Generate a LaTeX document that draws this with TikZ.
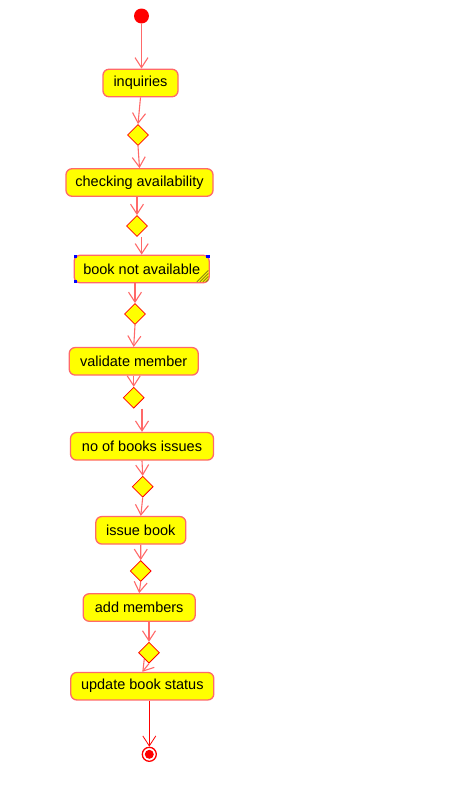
\documentclass[tikz,border=0pt]{standalone}
\usepackage{fontspec}
\setmainfont{Liberation Sans}
\usetikzlibrary{shapes.geometric,arrows.meta}
\definecolor{lred}{RGB}{255,105,105}
\definecolor{fyel}{RGB}{255,255,0}
\definecolor{hatch}{RGB}{140,130,20}
\begin{document}
\begin{tikzpicture}[x=1pt,y=-1pt,
 act/.style={draw=lred, line width=1.3pt, fill=fyel, rounded corners=6pt, inner sep=0pt, minimum height=27.5pt, font=\fontsize{14.5}{16}\selectfont},
 dec/.style={diamond, draw=red, line width=0.8pt, fill=fyel, inner sep=0pt, minimum width=21pt, minimum height=21pt},
 flow/.style={draw=lred, line width=1.1pt, -{Straight Barb[length=10pt,width=13pt]}},
 handle/.style={fill=blue},
]
\useasboundingbox[fill=white] (0,0) rectangle (462,790);
\node[circle, fill=red, minimum size=15pt, inner sep=0pt] (start) at (141.5,16) {};
\node[act, minimum width=75pt] (inq) at (140.5,83) {inquiries};
\node[dec] (d1) at (138,135) {};
\node[act, minimum width=147pt] (chk) at (139.5,182.5) {checking availability};
\node[dec] (d2) at (137,226) {};
\node[act, minimum width=135pt] (bna) at (141.7,269) {book not available};
\node[dec] (d3) at (135,314) {};
\node[act, minimum width=129pt] (val) at (133.7,361.3) {validate member};
\node[dec] (d4) at (133.7,397.7) {};
\node[act, minimum width=143pt] (nob) at (142,446.3) {no of books issues};
\node[dec] (d5) at (142.7,486.7) {};
\node[act, minimum width=90pt] (iss) at (140.8,530.3) {issue book};
\node[dec] (d6) at (140.7,571) {};
\node[act, minimum width=112pt] (add) at (139.2,607.5) {add members};
\node[dec] (d7) at (149,652.7) {};
\node[act, minimum width=143pt] (upd) at (142.3,686.2) {update book status};
\node[circle, draw=red, line width=1.3pt, fill=white, minimum size=14pt, inner sep=0pt] (end) at (149.3,754.3) {};
\fill[red] (end.center) circle (4.5);

% selection handles on "book not available"
\fill[handle] (bna.north west) rectangle ++(3.5,3.5);
\fill[handle] ([xshift=-3.5pt]bna.north east) rectangle ++(3.5,3.5);
\fill[handle] ([yshift=3.5pt]bna.south west) rectangle ++(3.5,3.5);
\foreach \k in {4,7,10,13}
  \draw[hatch, line width=0.8pt] ([xshift=-\k pt, yshift=1.5pt]bna.south east) -- ([xshift=-1.5pt, yshift=\k pt]bna.south east);

% connectors
\draw[flow] (start.south) -- (start.south |- inq.north);
\draw[flow] (inq.south) -- (d1.north);
\draw[flow] (d1.south) -- (chk.north);
\draw[flow] (chk.south -| d2.north) -- (d2.north);
\draw[flow] (d2.south -| bna.north) -- (bna.north);
\draw[flow] (bna.south -| d3.north) -- (d3.north);
\draw[flow] (d3.south) -- (val.north);
\draw[flow] (val.south) -- (d4.north);
\draw[flow] (d4.south -| nob.north) -- (nob.north);
\draw[flow] (nob.south) -- (d5.north);
\draw[flow] (d5.south) -- (iss.north);
\draw[flow] (iss.south) -- (d6.north);
\draw[flow] (d6.south) -- (add.north);
\draw[flow] (add.south -| d7.north) -- (d7.north);
\draw[flow] (d7.south) -- (upd.north);
\draw[flow, draw=red, line width=0.8pt] (upd.south -| end.north) -- (end.north);
\end{tikzpicture}
\end{document}
